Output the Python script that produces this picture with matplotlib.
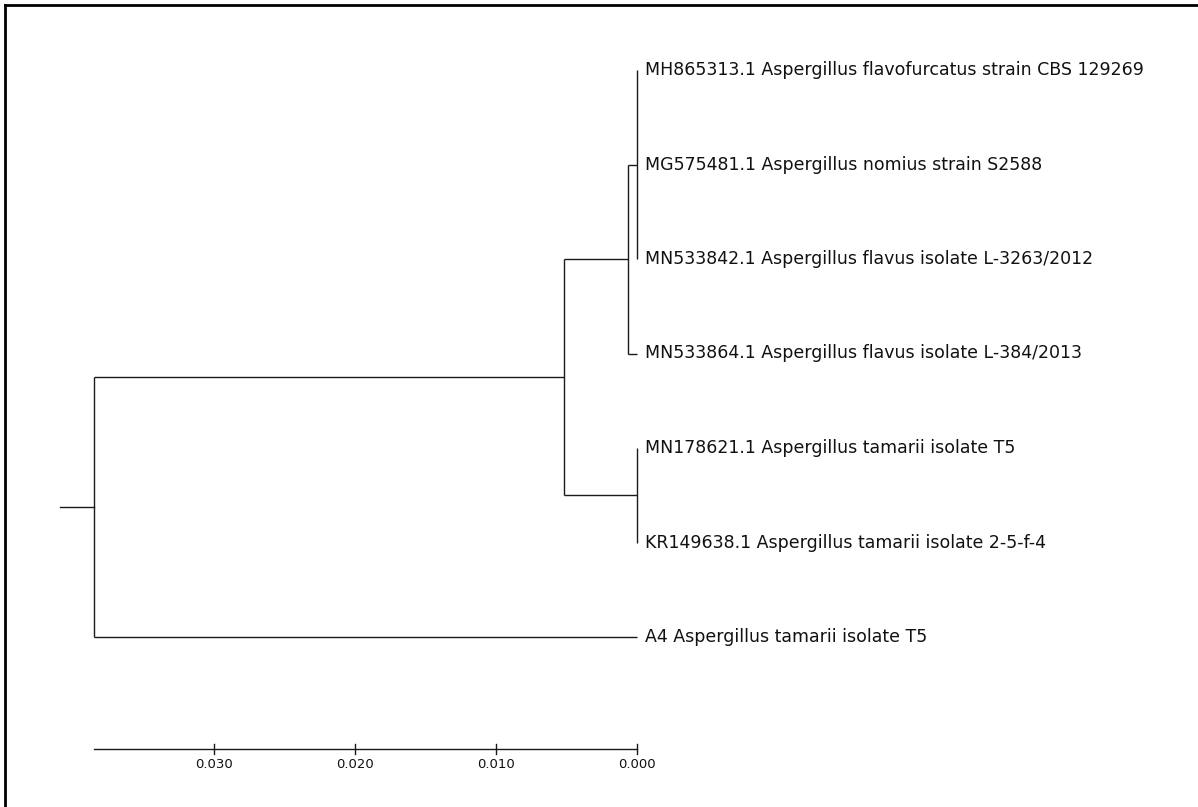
import matplotlib
matplotlib.use('Agg')
import matplotlib.pyplot as plt
from matplotlib.lines import Line2D

# tip labels, top to bottom
taxa = [
    'MH865313.1 Aspergillus flavofurcatus strain CBS 129269',
    'MG575481.1 Aspergillus nomius strain S2588',
    'MN533842.1 Aspergillus flavus isolate L-3263/2012',
    'MN533864.1 Aspergillus flavus isolate L-384/2013',
    'MN178621.1 Aspergillus tamarii isolate T5',
    'KR149638.1 Aspergillus tamarii isolate 2-5-f-4',
    'A4 Aspergillus tamarii isolate T5',
]
# internal nodes: children (index < 7 is a tip, otherwise 7 + node index)
node_children = [[0, 1, 2], [7, 3], [4, 5], [8, 9], [10, 6]]
node_height = [0.0, 0.00064, 0.0, 0.0052, 0.0385]
root_stub = 0.0024

scale_ticks = [0.030, 0.020, 0.010, 0.000]
scale_labels = ['0.030', '0.020', '0.010', '0.000']

W, H = 1198, 807
px_per_unit = 14100.0     # pixels per unit of distance
x_zero = 637.0            # pixel column of distance 0
y_first, y_step = 70.0, 94.5

fig = plt.figure(figsize=(W / 100, H / 100), dpi=100)
ax = fig.add_axes([0, 0, 1, 1])
ax.set_xlim(x_zero / px_per_unit, (x_zero - W) / px_per_unit)
ax.set_ylim((H - y_first) / y_step, -y_first / y_step)
ax.axis('off')

lc = '#1a1a1a'
lw = 1.0
ntip = len(taxa)
ypos = {i: float(i) for i in range(ntip)}
xpos = {i: 0.0 for i in range(ntip)}

def place(k):
    idx = ntip + k
    if idx in ypos:
        return
    for c in node_children[k]:
        if c >= ntip:
            place(c - ntip)
    kids = node_children[k]
    ypos[idx] = 0.5 * (ypos[kids[0]] + ypos[kids[-1]])
    xpos[idx] = node_height[k]

for k in range(len(node_children)):
    place(k)

for k, kids in enumerate(node_children):
    idx = ntip + k
    ys = [ypos[c] for c in kids]
    ax.plot([xpos[idx], xpos[idx]], [min(ys), max(ys)], color=lc, lw=lw,
            solid_capstyle='butt')
    for c in kids:
        if xpos[idx] != xpos[c]:
            ax.plot([xpos[idx], xpos[c]], [ypos[c], ypos[c]], color=lc, lw=lw,
                    solid_capstyle='butt')

root = ntip + len(node_children) - 1
ax.plot([xpos[root] + root_stub, xpos[root]], [ypos[root], ypos[root]],
        color=lc, lw=lw)

for i, name in enumerate(taxa):
    ax.annotate(name, (xpos[i], ypos[i]), xytext=(8, -5),
                textcoords='offset pixels', ha='left', va='baseline',
                fontsize=12.5, family='DejaVu Sans', color='#111111')

# distance scale
y_axis = (749 - y_first) / y_step
ax.plot([node_height[-1], 0.0], [y_axis, y_axis], color=lc, lw=lw)
for t, lab in zip(scale_ticks, scale_labels):
    ax.plot([t, t], [y_axis - 5 / y_step, y_axis + 5 / y_step], color=lc, lw=lw)
    ax.text(t, y_axis + 16 / y_step, lab, ha='center', va='center',
            fontsize=9.5, family='DejaVu Sans', color='#111111')

# frame fragments at top and left edge
fig.add_artist(Line2D([5 / W, 5 / W], [0, 1 - 5 / H], color='black', lw=2))
fig.add_artist(Line2D([5 / W, 1], [1 - 5 / H, 1 - 5 / H], color='black', lw=2))

fig.savefig('out.png', dpi=100)
